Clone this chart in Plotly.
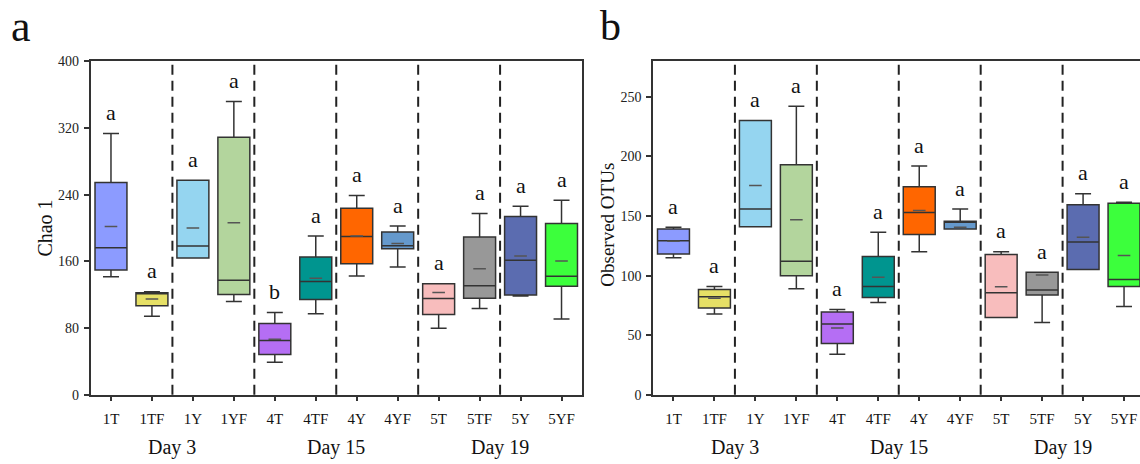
import plotly.graph_objects as go

categories = ["1T", "1TF", "1Y", "1YF", "4T", "4TF", "4Y", "4YF", "5T", "5TF", "5Y", "5YF"]
box_colors = ["#8C9BFF", "#E6E066", "#95D5F0", "#B3D59D", "#B56EF4", "#00958F",
              "#FF6600", "#6599CC", "#F8BDBD", "#989898", "#5B6CB0", "#3CFF3C"]
day_labels = ["Day 3", "Day 15", "Day 19"]
day_positions = [1.5, 5.5, 9.5]
separators = [1.5, 3.5, 5.5, 7.5, 9.5]

# Panel a: Chao 1
chao_low = [141.6, 94.0, 164.0, 111.8, 39.1, 97.1, 142.3, 153.2, 79.7, 103.3, 118.4, 90.9]
chao_q1 = [149.7, 106.8, 164.0, 120.3, 48.4, 114.1, 157.0, 175.2, 96.3, 115.7, 119.5, 130.0]
chao_median = [176.4, 121.0, 178.3, 137.3, 65.0, 135.8, 189.9, 178.7, 115.3, 130.7, 161.3, 142.0]
chao_q3 = [254.5, 122.2, 257.2, 308.7, 85.5, 165.2, 223.6, 195.3, 133.0, 189.1, 213.9, 205.4]
chao_high = [313.3, 123.4, 257.2, 351.6, 98.6, 190.3, 239.0, 202.3, 133.0, 217.4, 225.9, 233.2]
chao_mean = [201.9, 114.9, 200.0, 206.2, 66.5, 139.6, 190.3, 181.4, 122.6, 151.2, 166.3, 160.5]
chao_letters = ["a", "a", "a", "a", "b", "a", "a", "a", "a", "a", "a", "a"]

# Panel b: Observed OTUs
otu_low = [115.0, 67.8, 141.0, 88.9, 33.9, 77.5, 120.1, 139.1, 64.8, 60.7, 105.2, 74.0]
otu_q1 = [118.2, 72.9, 141.0, 99.8, 43.1, 81.6, 134.5, 139.1, 64.8, 83.8, 105.2, 90.8]
otu_median = [129.3, 82.2, 155.9, 112.0, 59.4, 90.8, 152.9, 144.8, 85.7, 87.9, 128.3, 96.8]
otu_q3 = [139.1, 88.4, 230.2, 193.1, 69.4, 116.0, 174.6, 145.6, 117.7, 102.8, 159.4, 160.8]
otu_high = [140.7, 90.8, 230.2, 242.1, 71.6, 136.4, 192.0, 155.9, 120.1, 102.8, 168.7, 161.6]
otu_mean = [128.8, 81.1, 175.7, 147.0, 56.1, 98.7, 154.6, 140.7, 90.6, 100.6, 132.3, 116.9]
otu_letters = ["a"] * 12

W, H = 1140, 464
FONT = "Liberation Serif"
LINE = "#333333"
TEXT = "#111111"

fig = go.Figure()

panels = [
    ("x", "y", chao_low, chao_q1, chao_median, chao_q3, chao_high, chao_mean, chao_letters),
    ("x2", "y2", otu_low, otu_q1, otu_median, otu_q3, otu_high, otu_mean, otu_letters),
]

for xa, ya, low, q1, med, q3, high, mean, letters in panels:
    for i, cat in enumerate(categories):
        fig.add_trace(go.Box(
            x=[i], q1=[q1[i]], median=[med[i]], q3=[q3[i]],
            lowerfence=[low[i]], upperfence=[high[i]],
            width=0.78, whiskerwidth=0.5,
            fillcolor=box_colors[i], line=dict(color=LINE, width=1.5),
            xaxis=xa, yaxis=ya, showlegend=False, hoverinfo="skip",
            boxpoints=False,
        ))
    fig.add_trace(go.Scatter(
        x=list(range(len(categories))), y=mean, mode="markers",
        marker=dict(symbol="line-ew", size=9, line=dict(color="#555555", width=1.5)),
        xaxis=xa, yaxis=ya, showlegend=False, hoverinfo="skip",
    ))
    for i, letter in enumerate(letters):
        fig.add_annotation(x=i, y=high[i], xref=xa, yref=ya, text=letter,
                           showarrow=False, yanchor="middle", yshift=21,
                           font=dict(family=FONT, size=22, color=TEXT))
    for s in separators:
        fig.add_shape(type="line", xref=xa, yref=f"{ya} domain", x0=s, x1=s, y0=0, y1=1,
                      line=dict(color="#222222", width=2, dash="10px,6px"))
    for d, p in zip(day_labels, day_positions):
        fig.add_annotation(x=p, y=1 - 455 / H, xref=xa, yref="paper", text=d,
                           showarrow=False, yanchor="middle", xanchor="center",
                           font=dict(family=FONT, size=20, color=TEXT))

ydom = [1 - 400.7 / H, 1 - 56 / H]
common_x = dict(
    tickvals=list(range(len(categories))), ticktext=categories,
    ticks="outside", ticklen=5, tickwidth=1.5, tickcolor=LINE,
    showline=True, linecolor=LINE, linewidth=1.5, mirror=True,
    showgrid=False, zeroline=False, ticklabelstandoff=5,
    tickfont=dict(family=FONT, size=15, color=TEXT),
)
common_y = dict(
    ticks="outside", ticklen=5, tickwidth=1.5, tickcolor=LINE,
    showline=True, linecolor=LINE, linewidth=1.5,
    showgrid=False, zeroline=False, domain=ydom, ticklabelstandoff=2,
    tickfont=dict(family=FONT, size=14, color="#222222"),
)

fig.update_layout(
    width=W, height=H, margin=dict(l=0, r=0, t=0, b=0),
    paper_bgcolor="white", plot_bgcolor="white",
    xaxis=dict(domain=[90.5 / W, 582 / W], range=[-0.5, 11.5], anchor="y", **common_x),
    yaxis=dict(range=[0, 400], tickvals=[0, 80, 160, 240, 320, 400], anchor="x", mirror=True, **common_y),
    xaxis2=dict(domain=[653 / W, 1.0], range=[-0.5, -0.5 + 487 / 40.96], anchor="y2", **common_x),
    yaxis2=dict(range=[0, 280], tickvals=[0, 50, 100, 150, 200, 250], anchor="x2", mirror=False, **common_y),
)

# y-axis titles and panel labels
fig.add_annotation(x=45 / W, y=1 - 229 / H, xref="paper", yref="paper", text="Chao 1",
                   textangle=-90, showarrow=False, xanchor="center", yanchor="middle",
                   font=dict(family=FONT, size=20, color=TEXT))
fig.add_annotation(x=608 / W, y=1 - 225 / H, xref="paper", yref="paper", text="Observed OTUs",
                   textangle=-90, showarrow=False, xanchor="center", yanchor="middle",
                   font=dict(family=FONT, size=19, color=TEXT))
fig.add_annotation(x=21 / W, y=1 - 20 / H, xref="paper", yref="paper", text="a",
                   showarrow=False, xanchor="center", yanchor="middle",
                   font=dict(family=FONT, size=44, color=TEXT))
fig.add_annotation(x=610 / W, y=1 - 20 / H, xref="paper", yref="paper", text="b",
                   showarrow=False, xanchor="center", yanchor="middle",
                   font=dict(family=FONT, size=42, color=TEXT))

fig.write_html("out.html")
